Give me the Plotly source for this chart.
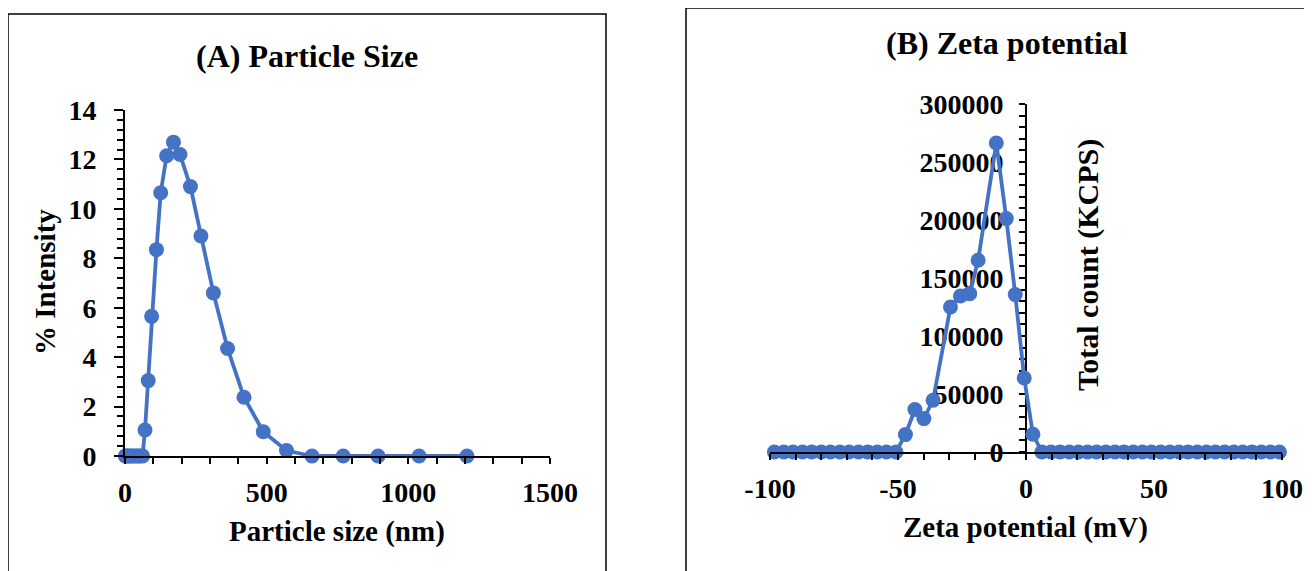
import plotly.graph_objects as go

W, H = 1312, 571
OFF = 8  # page body margin shifts the figure by this many pixels

# ---------------- Data ----------------
# (A) Particle size distribution
size_nm = [1, 5, 10, 15, 21, 27, 34, 41, 48, 55, 62, 70.6, 82, 94, 111, 126, 147, 171,
           194, 231, 268, 312, 362, 420, 488, 570, 660, 770, 893, 1038, 1207]
intensity_pct = [0, 0, 0, 0, 0, 0, 0, 0, 0, 0, 0, 1.05, 3.05, 5.65, 8.35, 10.65, 12.15, 12.7,
                 12.2, 10.9, 8.9, 6.6, 4.35, 2.38, 0.98, 0.22, 0, 0, 0, 0, 0]

# (B) Zeta potential distribution
zeta_mv = [-98.3, -94.6, -91.0, -87.3, -83.7, -80.0, -76.4, -72.7, -69.1, -65.4, -61.8, -58.1,
           -54.5, -50.8, -47.1, -43.4, -39.9, -36.3, -29.5, -25.6, -22.0, -18.7, -11.6, -7.7,
           -4.2, -0.7, 2.7, 6.2, 9.8, 13.3, 16.9, 20.5, 24.1, 27.6, 31.2, 34.8, 38.3, 41.9,
           45.5, 49.0, 52.6, 56.2, 59.8, 63.3, 66.9, 70.5, 74.0, 77.6, 81.2, 84.7, 88.3, 91.9,
           95.5, 99.0]
total_count = [0, 0, 0, 0, 0, 0, 0, 0, 0, 0, 0, 0, 0, 0, 15000, 36600, 28800, 44600, 125000,
               134500, 136500, 165300, 266400, 201200, 135700, 63800, 15300, 0, 0, 0, 0, 0, 0,
               0, 0, 0, 0, 0, 0, 0, 0, 0, 0, 0, 0, 0, 0, 0, 0, 0, 0, 0, 0, 0]

x_ticks_a = [0, 500, 1000, 1500]
y_ticks_a = [0, 2, 4, 6, 8, 10, 12, 14]
x_ticks_b = [-100, -50, 0, 50, 100]
y_ticks_b = [0, 50000, 100000, 150000, 200000, 250000, 300000]

# ---------------- Style ----------------
BLUE = "#4472C4"
FONT = "Liberation Serif"


def px(x):
    return (x - OFF) / W


def py(y):
    return 1 - (y - OFF) / H


fig = go.Figure()

fig.add_trace(go.Scatter(
    x=size_nm, y=intensity_pct, mode="lines+markers",
    line=dict(color=BLUE, width=3.8),
    marker=dict(color=BLUE, size=15),
    cliponaxis=False, xaxis="x", yaxis="y", showlegend=False))

fig.add_trace(go.Scatter(
    x=zeta_mv, y=total_count, mode="lines+markers",
    line=dict(color=BLUE, width=3.8),
    marker=dict(color=BLUE, size=15),
    cliponaxis=False, xaxis="x2", yaxis="y2", showlegend=False))

tickfont = dict(family=FONT, size=28, color="black", weight=700)

common = dict(showgrid=False, zeroline=False, showline=True, linecolor="black",
              linewidth=2, ticks="outside", tickcolor="black", tickwidth=1.5,
              tickfont=tickfont, fixedrange=True, automargin=False)

fig.update_layout(
    width=W, height=H, autosize=False,
    margin=dict(l=0, r=0, t=0, b=0, pad=0),
    paper_bgcolor="white", plot_bgcolor="rgba(0,0,0,0)",
    xaxis=dict(domain=[px(125), px(550)], range=[0, 1500], anchor="y",
               tickvals=x_ticks_a, ticktext=[str(v) for v in x_ticks_a],
               ticklen=6, ticklabelstandoff=4,
               minor=dict(dtick=100, ticks="outside", ticklen=6, tickcolor="black", tickwidth=1.5),
               **common),
    yaxis=dict(domain=[py(456), py(110)], range=[0, 14], anchor="x",
               tickvals=y_ticks_a, ticktext=[str(v) for v in y_ticks_a],
               ticklen=9, ticklabelstandoff=12,
               minor=dict(dtick=0.4, ticks="outside", ticklen=6, tickcolor="black", tickwidth=1.5),
               **common),
    xaxis2=dict(domain=[px(770), px(1282)], range=[-100, 100], anchor="y2",
                tickvals=x_ticks_b, ticktext=[str(v) for v in x_ticks_b],
                ticklen=6, ticklabelstandoff=4,
                minor=dict(dtick=10, ticks="outside", ticklen=6, tickcolor="black", tickwidth=1.5),
                **common),
    yaxis2=dict(domain=[py(452), py(104)], range=[0, 300000], anchor="free",
                position=px(1026), tickvals=y_ticks_b, ticktext=[str(v) for v in y_ticks_b],
                ticklen=6, ticklabelstandoff=10,
                layer="below traces",
                minor=dict(dtick=10000, ticks="outside", ticklen=6, tickcolor="black", tickwidth=1.5),
                **common),
)

# Panel borders
fig.add_shape(type="rect", xref="paper", yref="paper",
              x0=px(8), x1=px(606), y0=-0.2, y1=py(14),
              line=dict(color="black", width=1.5), fillcolor="rgba(0,0,0,0)", layer="below")
fig.add_shape(type="rect", xref="paper", yref="paper",
              x0=px(686), x1=1.2, y0=-0.2, y1=py(8),
              line=dict(color="black", width=1.5), fillcolor="rgba(0,0,0,0)", layer="below")


def label(text, x, y, size, angle=0):
    fig.add_annotation(text=text, xref="paper", yref="paper", x=px(x), y=py(y),
                       xanchor="center", yanchor="middle", showarrow=False, textangle=angle,
                       font=dict(family=FONT, size=size, color="black", weight=700))


label("(A) Particle Size", 307, 56, 32)
label("(B) Zeta potential", 1007, 43, 32)
label("Particle size (nm)", 337, 531, 29)
label("Zeta potential (mV)", 1025, 527, 29)
label("% Intensity", 45, 282, 29, -90)
label("Total count (KCPS)", 1088, 265, 30, -90)

fig.write_html("out.html")
